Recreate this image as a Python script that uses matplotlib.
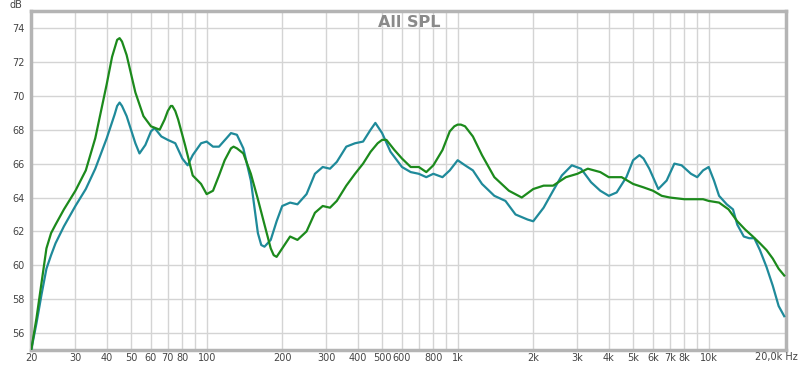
import matplotlib.pyplot as plt
import matplotlib.ticker as mticker

# green curve
green_f = [20, 21, 22, 23, 24, 25, 27, 30, 33, 36, 40, 42, 44, 45, 46, 48, 52, 56, 60,
           65, 68, 70, 72, 73, 75, 77, 82, 88, 95, 100, 106, 112, 118, 125, 128, 132,
           140, 150, 160, 170, 180, 185, 190, 200, 215, 230, 250, 270, 290, 310, 330,
           360, 390, 420, 450, 480, 500, 520, 560, 600, 650, 700, 750, 800, 870, 930,
           970, 1000, 1030, 1070, 1150, 1250, 1400, 1600, 1800, 2000, 2200, 2400,
           2700, 3000, 3300, 3700, 4000, 4500, 5000, 5500, 6000, 6500, 7000, 8000,
           9500, 10000, 11000, 12000, 13000, 14000, 15000, 16000, 17000, 18000,
           19000, 20000]
green_db = [55.0, 56.9, 59.0, 61.0, 61.9, 62.4, 63.3, 64.4, 65.6, 67.5, 70.7, 72.3,
            73.3, 73.4, 73.2, 72.4, 70.2, 68.8, 68.2, 68.0, 68.6, 69.1, 69.4, 69.4,
            69.1, 68.6, 67.1, 65.3, 64.8, 64.2, 64.4, 65.3, 66.2, 66.9, 67.0, 66.9,
            66.6, 65.4, 63.9, 62.4, 61.0, 60.6, 60.5, 61.0, 61.7, 61.5, 62.0, 63.1,
            63.5, 63.4, 63.8, 64.7, 65.4, 66.0, 66.7, 67.2, 67.4, 67.4, 66.8, 66.3,
            65.8, 65.8, 65.5, 65.9, 66.8, 67.9, 68.2, 68.3, 68.3, 68.2, 67.6, 66.5,
            65.2, 64.4, 64.0, 64.5, 64.7, 64.7, 65.2, 65.4, 65.7, 65.5, 65.2, 65.2,
            64.8, 64.6, 64.4, 64.1, 64.0, 63.9, 63.9, 63.8, 63.7, 63.3, 62.6, 62.1,
            61.7, 61.3, 60.9, 60.4, 59.8, 59.4]

# teal curve
teal_f = [20, 21, 22, 23, 24, 25, 27, 30, 33, 36, 40, 43, 44, 45, 46, 48, 52, 54, 57,
          60, 62, 66, 70, 75, 80, 84, 88, 95, 100, 106, 112, 120, 125, 132, 140, 150,
          160, 165, 170, 180, 190, 200, 215, 230, 250, 270, 290, 310, 330, 360, 390,
          420, 450, 470, 500, 540, 600, 650, 700, 750, 800, 870, 930, 1000, 1070,
          1150, 1250, 1400, 1550, 1700, 1900, 2000, 2200, 2400, 2600, 2850, 3100,
          3400, 3700, 4000, 4300, 4700, 5000, 5300, 5500, 5800, 6300, 6800, 7300,
          7800, 8500, 9000, 9500, 10000, 10500, 11000, 11800, 12500, 13000, 13800,
          14500, 15200, 16000, 17000, 18000, 19000, 20000]
teal_db = [55.0, 56.6, 58.3, 59.8, 60.6, 61.3, 62.3, 63.5, 64.5, 65.7, 67.5, 68.9,
           69.4, 69.6, 69.4, 68.8, 67.2, 66.6, 67.1, 67.9, 68.1, 67.6, 67.4, 67.2,
           66.3, 65.9, 66.5, 67.2, 67.3, 67.0, 67.0, 67.5, 67.8, 67.7, 66.9, 65.0,
           61.9, 61.2, 61.1, 61.5, 62.6, 63.5, 63.7, 63.6, 64.2, 65.4, 65.8, 65.7,
           66.1, 67.0, 67.2, 67.3, 68.0, 68.4, 67.8, 66.7, 65.8, 65.5, 65.4, 65.2,
           65.4, 65.2, 65.6, 66.2, 65.9, 65.6, 64.8, 64.1, 63.8, 63.0, 62.7, 62.6,
           63.4, 64.4, 65.3, 65.9, 65.7, 64.9, 64.4, 64.1, 64.3, 65.2, 66.2, 66.5,
           66.3, 65.7, 64.5, 65.0, 66.0, 65.9, 65.4, 65.2, 65.6, 65.8, 65.0, 64.1,
           63.6, 63.3, 62.4, 61.7, 61.6, 61.6, 60.9, 59.9, 58.8, 57.6, 57.0]

grid_f = [20, 30, 40, 50, 60, 70, 80, 90, 100, 200, 300, 400, 500, 600, 700, 800, 900,
          1000, 2000, 3000, 4000, 5000, 6000, 7000, 8000, 9000, 10000]
label_f = [20, 30, 40, 50, 60, 70, 80, 100, 200, 300, 400, 500, 600, 800, 1000,
           2000, 3000, 4000, 5000, 6000, 7000, 8000, 10000]
label_txt = ["20", "30", "40", "50", "60", "70", "80", "100", "200", "300", "400",
             "500", "600", "800", "1k", "2k", "3k", "4k", "5k", "6k", "7k", "8k", "10k"]
y_ticks = [56, 58, 60, 62, 64, 66, 68, 70, 72, 74]

fig = plt.figure(figsize=(8, 3.67), dpi=100)
ax = fig.add_axes([0.039, 0.046, 0.944, 0.924])

ax.plot(teal_f, teal_db, color="#1f8a9a", lw=1.6, zorder=3)
ax.plot(green_f, green_db, color="#1c8a1c", lw=1.6, zorder=4)

ax.set_xscale("log")
ax.set_xlim(20, 20400)
ax.set_ylim(55, 75)

ax.xaxis.set_major_locator(mticker.FixedLocator(grid_f))
ax.xaxis.set_minor_locator(mticker.NullLocator())
ax.set_xticks(grid_f)
ax.set_xticklabels([label_txt[label_f.index(f)] if f in label_f else "" for f in grid_f])
ax.set_yticks(y_ticks)
ax.set_yticklabels([str(v) for v in y_ticks])
ax.tick_params(length=0, labelsize=7, colors="#444444")
ax.tick_params(axis="x", pad=2)
ax.tick_params(axis="y", pad=5)

ax.grid(True, color="#d4d4d4", lw=1.0)
ax.set_axisbelow(True)
for s in ax.spines.values():
    s.set_color("#b4b4b4")
    s.set_linewidth(2.5)

ax.text(0.5, 0.953, "All SPL", transform=ax.transAxes, ha="center", va="baseline",
        fontsize=11.5, fontweight="bold", color="#8a8a8a")
fig.text(10 / 800, 1 - 5 / 367, "dB", ha="left", va="center", fontsize=7, color="#444444")
fig.text(798 / 800, 1 - 357 / 367, "20,0k Hz", ha="right", va="center", fontsize=7,
         color="#444444")

fig.savefig("out.png", dpi=100)
